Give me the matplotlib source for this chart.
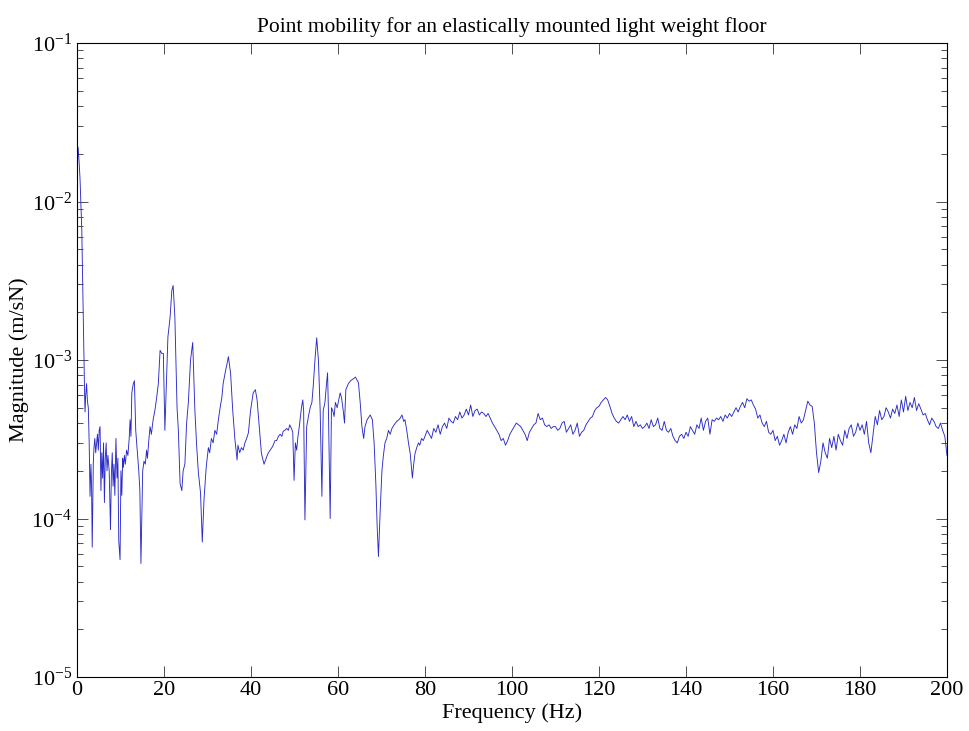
import numpy as np
import matplotlib
matplotlib.use("Agg")
import matplotlib.pyplot as plt
from matplotlib.ticker import LogLocator, NullFormatter

plt.rcParams['font.family'] = ['Liberation Serif', 'DejaVu Serif']
plt.rcParams['mathtext.fontset'] = 'custom'
plt.rcParams['mathtext.rm'] = 'Liberation Serif'
plt.rcParams['mathtext.it'] = 'Liberation Serif:italic'

# ---- data: low band (0-80 Hz), magnitude in units of 1e-4 m/sN ----
freq_low = [0.0, 0.25, 0.5, 0.7, 0.9, 1.1, 1.3, 1.45, 1.6, 1.75, 1.85, 2.0, 2.2, 2.4, 2.6, 2.8,
            3.0, 3.2, 3.35, 3.5, 3.75, 3.9, 4.1, 4.3, 4.5, 4.7, 4.9, 5.1, 5.3, 5.5, 5.7, 5.9,
            6.1, 6.3, 6.5, 6.7, 6.9, 7.1, 7.4, 7.7, 7.9, 8.1, 8.3, 8.5, 8.7, 8.95, 9.2, 9.4,
            9.6, 9.9, 10.1, 10.3, 10.5, 10.65, 10.9, 11.1, 11.4, 11.7, 12.0, 12.2, 12.4, 12.6,
            12.95, 13.2, 13.5, 13.8, 14.2, 14.45, 14.7, 15.1, 15.4, 15.7, 16.0, 16.2, 16.5, 16.8,
            17.1, 17.5, 17.9, 18.3, 18.7, 19.1, 19.5, 19.85, 20.2, 20.5, 20.9, 21.4, 21.8, 22.1,
            22.5, 23.0, 23.3, 23.7, 24.1, 24.4, 24.8, 25.2, 25.6, 26.1, 26.6, 27.1, 27.5, 27.9,
            28.4, 28.8, 29.2, 29.7, 30.2, 30.5, 30.9, 31.3, 31.7, 32.1, 32.5, 32.9, 33.3, 33.6,
            34.2, 34.5, 34.8, 35.3, 35.8, 36.3, 36.8, 37.0, 37.4, 37.8, 38.2, 38.6, 39.0, 39.4,
            39.9, 40.5, 41.0, 41.4, 41.9, 42.4, 43.0, 43.6, 44.0, 44.4, 44.8, 45.1, 45.5, 45.9,
            46.3, 46.7, 47.1, 47.4, 47.8, 48.2, 48.6, 48.9, 49.3, 49.6, 49.9, 50.2, 50.5, 50.8,
            51.1, 51.6, 51.9, 52.1, 52.4, 52.8, 53.2, 53.6, 54.0, 54.3, 54.7, 55.1, 55.5, 55.9,
            56.3, 56.6, 57.0, 57.3, 57.6, 57.8, 58.2, 58.5, 58.8, 59.1, 59.4, 59.8, 60.5, 60.8,
            61.2, 61.5, 61.8, 62.4, 62.9, 63.5, 64.0, 64.7, 65.1, 65.5, 65.9, 66.2, 66.7, 67.4,
            67.9, 68.3, 68.7, 69.0, 69.3, 69.7, 70.1, 70.4, 70.8, 71.2, 71.6, 72.0, 72.4, 72.9,
            73.5, 74.0, 74.3, 74.7, 75.1, 75.4, 75.8, 76.2, 76.6, 77.1, 77.4, 77.7, 78.1, 78.5,
            78.8, 79.2, 79.6]
mag_low = [150, 220, 175, 138, 95, 66, 31, 17, 10, 6.0, 4.7, 6.0, 7.1, 5.5, 5.0, 3.0,
           1.38, 2.2, 1.6, 0.66, 2.24, 2.8, 3.2, 2.6, 3.0, 3.4, 2.7, 3.6, 3.8, 1.5, 2.6, 1.8,
           3.0, 1.26, 2.4, 3.0, 2.0, 2.5, 2.0, 0.85, 1.9, 2.6, 1.6, 2.2, 1.4, 3.2, 1.8, 2.4,
           0.72, 0.55, 2.0, 1.4, 2.4, 2.1, 2.5, 2.2, 2.7, 2.5, 3.2, 4.2, 3.3, 6.2,
           7.1, 7.4, 3.6, 2.8, 2.0, 1.5, 0.52, 2.0, 2.3, 2.2, 2.7, 2.4, 3.1, 3.8,
           3.4, 4.2, 4.8, 5.75, 7.1, 11.5, 11.0, 11.0, 3.6, 6.5, 14, 18.6, 27.5, 29.5,
           18.6, 5.0, 3.6, 1.66, 1.5, 2.0, 2.2, 4.0, 5.4, 10, 12.9, 4.8, 2.9, 1.95,
           1.45, 0.71, 1.32, 2.1, 2.8, 2.6, 3.2, 3.0, 3.6, 3.4, 4.2, 5.0, 5.8, 7.1,
           8.7, 9.5, 10.5, 8.3, 4.8, 3.16, 2.34, 2.9, 2.6, 2.8, 2.7, 3.0, 3.2, 3.47,
           4.8, 6.2, 6.5, 5.6, 3.8, 2.57, 2.2, 2.45, 2.6, 2.7, 2.8, 2.9, 3.1, 3.1,
           3.3, 3.4, 3.3, 3.55, 3.6, 3.7, 3.6, 3.9, 3.7, 3.5, 1.74, 3.0, 2.7, 3.3,
           3.8, 5.0, 5.6, 4.8, 0.98, 3.8, 4.4, 5.0, 5.4, 6.8, 10, 13.8, 10, 4.8,
           1.38, 4.8, 5.4, 6.8, 8.3, 4.8, 1.0, 5.0, 4.8, 4.4, 5.4, 5.0, 6.2, 5.8,
           4.8, 4.0, 6.5, 7.1, 7.4, 7.6, 7.8, 7.2, 5.4, 3.8, 3.2, 3.8, 4.2, 4.5,
           4.2, 3.0, 1.66, 0.89, 0.575, 1.12, 2.0, 2.45, 3.0, 3.2, 3.6, 3.4, 3.7, 3.9,
           4.1, 4.2, 4.3, 4.5, 4.1, 4.2, 3.6, 3.0, 2.57, 1.8, 2.2, 2.57, 2.8, 3.0,
           2.9, 3.2, 3.1]

# ---- data: high band (80-200 Hz, 0.5 Hz resolution), magnitude in units of 1e-4 m/sN ----
freq_high_start, freq_high_stop, freq_high_step = 80.0, 200.0, 0.5
mag_high = [
    3.3, 3.6, 3.4, 3.2, 3.7, 3.5, 3.9, 3.4, 3.8, 4.0, 3.7, 4.3, 4.1, 4.0, 4.4, 4.2, 4.7, 4.3, 4.5, 4.9,
    4.5, 5.2, 4.4, 4.8, 4.9, 4.5, 4.7, 4.6, 4.4, 4.6, 4.3, 4.0, 3.8, 3.6, 3.4, 3.1, 3.2, 2.9, 3.1, 3.4,
    3.6, 3.8, 4.0, 3.9, 3.8, 3.6, 3.4, 3.1, 3.5, 3.7, 3.9, 4.0, 4.6, 4.2, 4.3, 3.9, 3.8, 3.9, 3.7, 3.8,
    3.8, 3.6, 3.7, 4.0, 4.1, 3.5, 3.7, 3.9, 3.4, 3.6, 4.0, 3.3, 3.5, 3.6, 3.9, 4.1, 4.3, 4.4, 4.8, 5.0,
    5.1, 5.4, 5.6, 5.8, 5.6, 5.1, 4.6, 4.3, 4.1, 4.0, 4.2, 4.4, 4.2, 4.5, 4.1, 4.4, 3.8, 4.1, 3.8, 3.9,
    3.7, 3.8, 4.0, 3.7, 4.2, 3.8, 3.9, 4.3, 3.7, 3.6, 4.1, 3.6, 3.5, 3.7, 3.3, 3.1, 3.0, 3.3, 3.4, 3.2,
    3.5, 3.3, 3.8, 3.6, 3.4, 3.9, 3.7, 4.3, 3.6, 4.1, 4.3, 3.4, 4.2, 4.1, 4.3, 4.2, 4.4, 4.1, 4.5, 4.3,
    4.6, 4.4, 4.7, 5.0, 4.7, 5.1, 5.4, 5.0, 5.7, 5.5, 5.6, 5.2, 4.9, 4.3, 4.5, 4.0, 3.8, 4.1, 3.5, 3.4,
    3.6, 3.1, 3.3, 2.9, 3.1, 3.4, 3.0, 3.5, 3.8, 3.4, 3.9, 3.7, 4.4, 4.0, 4.2, 4.8, 5.5, 5.2, 5.1, 4.0,
    2.6, 1.95, 2.3, 3.0, 2.6, 2.4, 3.2, 2.8, 3.3, 2.7, 3.4, 3.1, 2.9, 3.6, 3.2, 3.7, 3.9, 3.3, 3.5, 4.0,
    3.6, 3.9, 3.4, 4.1, 3.0, 2.6, 3.4, 4.4, 3.9, 4.8, 4.2, 4.4, 5.0, 4.7, 4.3, 4.9, 4.6, 5.2, 4.4, 5.6,
    4.7, 5.9, 4.8, 5.4, 5.0, 5.8, 4.8, 5.3, 4.9, 4.5, 4.6, 4.2, 3.9, 4.3, 4.1, 3.8, 3.7, 4.0, 3.6, 3.3,
    2.5]

freq_high = np.arange(freq_high_start, freq_high_stop + freq_high_step / 2, freq_high_step)
freq = np.concatenate([np.array(freq_low), freq_high])
mag = np.concatenate([np.array(mag_low), np.array(mag_high)]) * 1e-4

title = "Point mobility for an elastically mounted light weight floor"
xlabel = "Frequency (Hz)"
ylabel = "Magnitude (m/sN)"
xticks = [0, 20, 40, 60, 80, 100, 120, 140, 160, 180, 200]

fig = plt.figure(figsize=(9.69, 7.31), dpi=100)
ax = fig.add_axes([77 / 969, 54 / 731, 870 / 969, 634 / 731])
ax.semilogy(freq, mag, color='#2a2ac8', linewidth=0.65)
ax.set_xlim(0, 200)
ax.set_ylim(1e-5, 1e-1)
ax.set_xticks(xticks)
ax.set_xticklabels([str(t) for t in xticks])
ax.yaxis.set_major_locator(LogLocator(base=10, numticks=10))
ax.yaxis.set_minor_locator(LogLocator(base=10, subs=np.arange(2, 10), numticks=20))
ax.yaxis.set_minor_formatter(NullFormatter())
ax.tick_params(which='both', direction='in', top=True, right=True, labelsize=16, width=0.6, color='#333333')
ax.tick_params(which='major', length=8)
ax.tick_params(which='minor', length=4)
ax.tick_params(axis='x', pad=3)
for s in ax.spines.values():
    s.set_linewidth(0.8)
ax.set_title(title, fontsize=15.5, pad=8)
ax.set_xlabel(xlabel, fontsize=16, labelpad=2)
ax.set_ylabel(ylabel, fontsize=16, labelpad=2)
fig.savefig("out.png", dpi=100, facecolor='white')
